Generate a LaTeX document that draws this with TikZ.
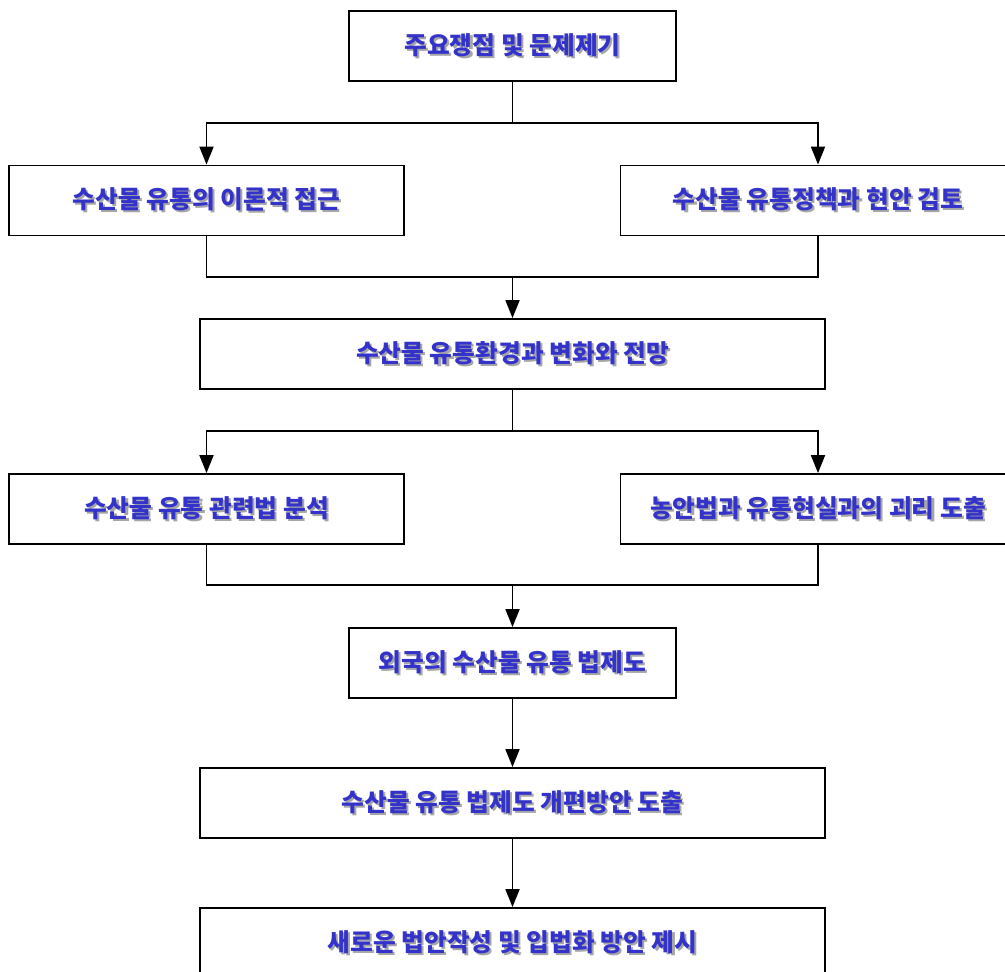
\documentclass[tikz,border=0pt]{standalone}
\usepackage{fontspec}
\newfontfamily\kr{Noto Sans CJK KR}
\usetikzlibrary{arrows.meta}
\definecolor{labelblue}{RGB}{51,51,204}
\newcommand\shadowlabel[1]{\makebox[0pt][l]{\hspace{1.5pt}\raisebox{-1.5pt}{\color{gray!70}#1}}{\color{labelblue}#1}}
\begin{document}
\begin{tikzpicture}
			[x=0.025cm,y=-0.025cm,
			box/.style={rectangle,draw,line width=1.3pt,minimum height=1.75cm,inner sep=0pt,
				font=\kr\bfseries\fontsize{17.6}{20}\selectfont},
			small/.style={box,minimum width=8.175cm},
			side/.style={box,minimum width=9.875cm},
			wide/.style={box,minimum width=15.625cm},
			>={Triangle[length=0.45cm,width=0.35cm]},line width=1.3pt]
			\useasboundingbox(0,0)rectangle(1005,972);
			\node[small,name=top]at(512.5,46){\shadowlabel{주요쟁점 및 문제제기}};
			\node[side,name=theory]at(206.5,200.5){\shadowlabel{수산물 유통의 이론적 접근}};
			\node[side,name=policy]at(818,200.5){\shadowlabel{수산물 유통정책과 현안 검토}};
			\node[wide,name=env]at(512.5,354){\shadowlabel{수산물 유통환경과 변화와 전망}};
			\node[side,name=law]at(206.5,509){\shadowlabel{수산물 유통 관련법 분석}};
			\node[side,name=gap]at(818,509){\shadowlabel{농안법과 유통현실과의 괴리 도출}};
			\node[small,name=foreign]at(512.5,663){\shadowlabel{외국의 수산물 유통 법제도}};
			\node[wide,name=reform]at(512.5,803){\shadowlabel{수산물 유통 법제도 개편방안 도출}};
			\node[wide,name=bill]at(512.5,943){\shadowlabel{새로운 법안작성 및 입법화 방안 제시}};
			% junctions
			\coordinate(splitA)at(512.5,123);
			\coordinate(joinA)at(512.5,277);
			\coordinate(splitB)at(512.5,431);
			\coordinate(joinB)at(512.5,585);
			\draw(top)--(splitA);
			\draw[->](splitA)-|(theory);
			\draw[->](splitA)-|(policy);
			\draw(theory)|-(joinA);
			\draw(policy)|-(joinA);
			\draw[->](joinA)--(env);
			\draw(env)--(splitB);
			\draw[->](splitB)-|(law);
			\draw[->](splitB)-|(gap);
			\draw(law)|-(joinB);
			\draw(gap)|-(joinB);
			\draw[->](joinB)--(foreign);
			\draw[->](foreign)--(reform);
			\draw[->](reform)--(bill);
		\end{tikzpicture}
\end{document}
